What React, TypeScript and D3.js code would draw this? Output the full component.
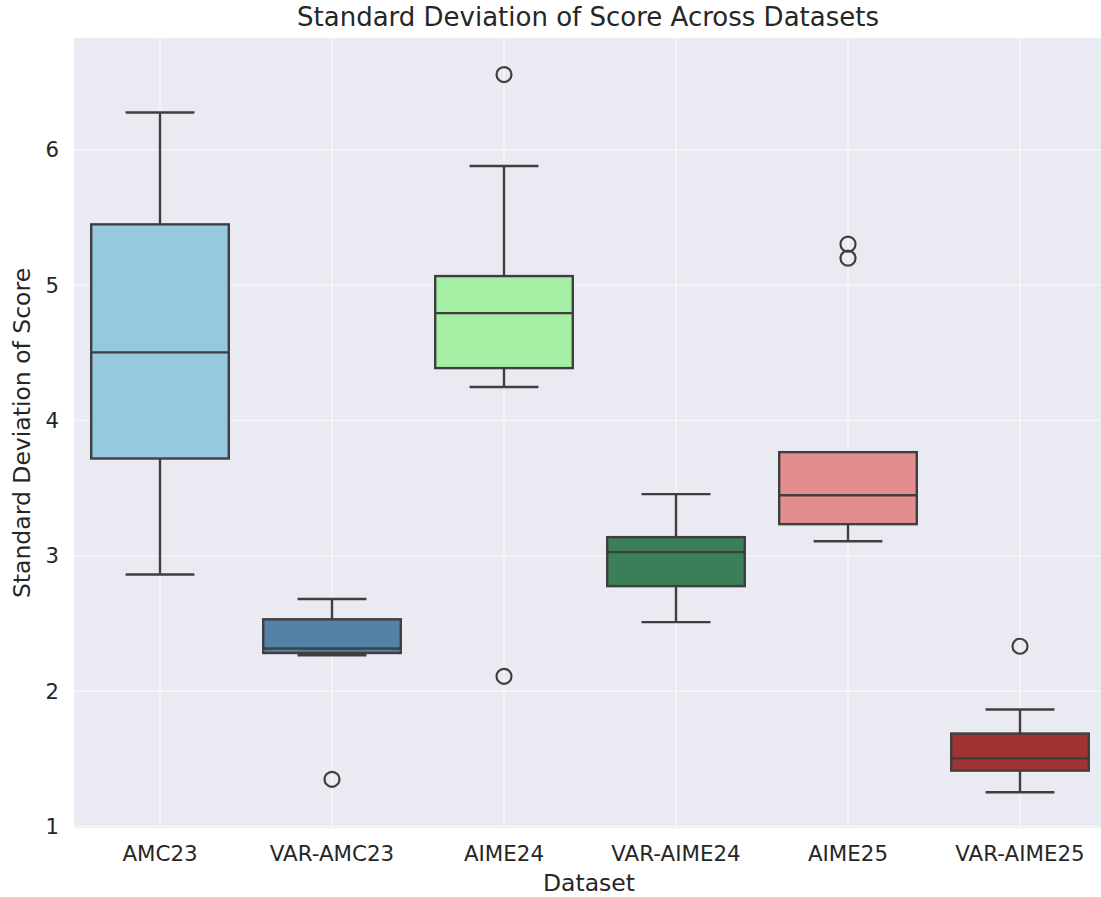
import React from "react";
import * as d3 from "d3";

const categories = ["AMC23", "VAR-AMC23", "AIME24", "VAR-AIME24", "AIME25", "VAR-AIME25"];
const whiskerLow = [2.862, 2.265, 4.247, 2.51, 3.108, 1.253];
const q1 = [3.719, 2.282, 4.387, 2.776, 3.234, 1.413];
const median = [4.503, 2.315, 4.793, 3.027, 3.448, 1.504];
const q3 = [5.449, 2.531, 5.067, 3.138, 3.766, 1.687];
const whiskerHigh = [6.276, 2.681, 5.88, 3.456, 3.766, 1.864];
const outliers: number[][] = [[], [1.349], [6.556, 2.11], [], [5.303, 5.199], [2.332]];
const colors = ["#94C9DF", "#5481A6", "#A4EFA4", "#3A7F58", "#E28E8E", "#A03434"];
const yTicks = [1, 2, 3, 4, 5, 6];

const W = 1101;
const H = 897;
const left = 74;
const right = 1106;
const top = 38;
const bottom = 828;
const line = "#3f3f3f";
const font = "'DejaVu Sans', sans-serif";

export default function App() {
  const x = d3.scaleBand<string>().domain(categories).range([left, right]).paddingInner(0).paddingOuter(0);
  const y = d3.scaleLinear().domain([0.989, 6.826]).range([bottom, top]);
  const bw = x.bandwidth();
  const boxW = bw * 0.8;
  const capW = bw * 0.4;
  return (
    <svg width={W} height={H} style={{ position: "absolute", left: 0, top: 0, background: "#fff" }}>
      <rect x={left} y={top} width={right - left} height={bottom - top} fill="#EAEAF2" />
      {yTicks.map((t) => (
        <line key={"gy" + t} x1={left} x2={right} y1={y(t)} y2={y(t)} stroke="#fff" strokeOpacity={0.55} strokeWidth={1.5} />
      ))}
      {categories.map((c) => (
        <line key={"gx" + c} x1={x(c)! + bw / 2} x2={x(c)! + bw / 2} y1={top} y2={bottom} stroke="#fff" strokeOpacity={0.55} strokeWidth={1.5} />
      ))}
      {categories.map((c, i) => {
        const cx = x(c)! + bw / 2;
        return (
          <g key={c}>
            <line x1={cx} x2={cx} y1={y(q3[i])} y2={y(whiskerHigh[i])} stroke={line} strokeWidth={2.4} />
            <line x1={cx} x2={cx} y1={y(q1[i])} y2={y(whiskerLow[i])} stroke={line} strokeWidth={2.4} />
            <line x1={cx - capW / 2} x2={cx + capW / 2} y1={y(whiskerHigh[i])} y2={y(whiskerHigh[i])} stroke={line} strokeWidth={2.4} />
            <line x1={cx - capW / 2} x2={cx + capW / 2} y1={y(whiskerLow[i])} y2={y(whiskerLow[i])} stroke={line} strokeWidth={2.4} />
            <rect x={cx - boxW / 2} y={y(q3[i])} width={boxW} height={y(q1[i]) - y(q3[i])} fill={colors[i]} stroke={line} strokeWidth={2.4} />
            <line x1={cx - boxW / 2} x2={cx + boxW / 2} y1={y(median[i])} y2={y(median[i])} stroke={line} strokeWidth={2.4} />
            {outliers[i].map((o, j) => (
              <circle key={j} cx={cx} cy={y(o)} r={7.5} fill="none" stroke={line} strokeWidth={2.2} />
            ))}
          </g>
        );
      })}
      {yTicks.map((t) => (
        <text key={"ty" + t} x={59} y={y(t)} dy="0.36em" textAnchor="end" fontFamily={font} fontSize={21.2} fill="#262626">
          {t}
        </text>
      ))}
      {categories.map((c) => (
        <text key={"tx" + c} x={x(c)! + bw / 2} y={861} textAnchor="middle" fontFamily={font} fontSize={21.4} fill="#262626">
          {c}
        </text>
      ))}
      <text x={(left + right) / 2 - 2} y={26} textAnchor="middle" fontFamily={font} fontSize={26} fill="#262626">
        Standard Deviation of Score Across Datasets
      </text>
      <text x={589} y={891} textAnchor="middle" fontFamily={font} fontSize={23.5} fill="#262626">
        Dataset
      </text>
      <text transform={`translate(30, ${(top + bottom) / 2}) rotate(-90)`} textAnchor="middle" fontFamily={font} fontSize={23.5} fill="#262626">
        Standard Deviation of Score
      </text>
    </svg>
  );
}
